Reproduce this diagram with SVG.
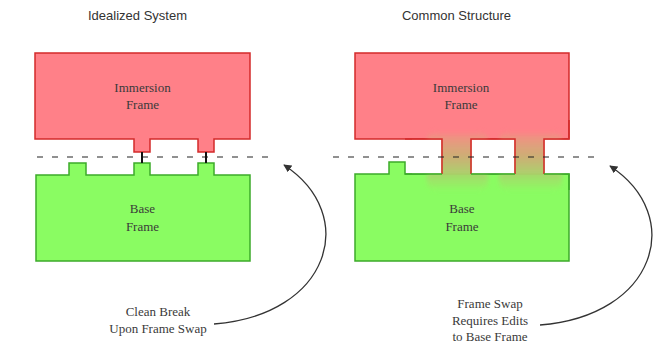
<svg xmlns="http://www.w3.org/2000/svg" width="656" height="344" viewBox="0 0 656 344">
<style>
.title{font-family:"Liberation Sans",Arial,sans-serif;font-size:13px;fill:#333;text-anchor:middle}
.lbl{font-family:"Liberation Serif","Times New Roman",serif;font-size:13px;fill:#3a3a3a;text-anchor:middle}
.red{fill:#ff8088;stroke:#d42a2a;stroke-width:1.5}
.green{fill:#8afc62;stroke:#3caa2a;stroke-width:1.5}
.rline{fill:none;stroke:#d42a2a;stroke-width:1.5}
.gline{fill:none;stroke:#3caa2a;stroke-width:1.5}
.dash{stroke:#222;stroke-width:1.2;stroke-dasharray:6 9;fill:none}
.conn{stroke:#111;stroke-width:2}
.arrow{fill:none;stroke:#333;stroke-width:1.3;marker-end:url(#ah)}
</style>
<defs>
<marker id="ah" viewBox="0 0 10 10" refX="9" refY="5" markerWidth="8" markerHeight="8" markerUnits="userSpaceOnUse" orient="auto">
<path d="M0,0 L10,5 L0,10 Z" fill="#333"/>
</marker>
<linearGradient id="blend" x1="0" y1="0" x2="0" y2="1">
<stop offset="0" stop-color="#ff8088"/>
<stop offset="0.15" stop-color="#e89a80"/>
<stop offset="0.45" stop-color="#c8b474"/>
<stop offset="0.72" stop-color="#a8d66c"/>
<stop offset="1" stop-color="#8cfc62"/>
</linearGradient>
<filter id="soft" x="-20%" y="-20%" width="140%" height="140%">
<feGaussianBlur stdDeviation="2"/>
</filter>
</defs>
<rect width="656" height="344" fill="#fff"/>

<text class="title" x="137.5" y="20">Idealized System</text>
<text class="title" x="456.5" y="20">Common Structure</text>

<!-- Left: idealized -->
<g id="left-base">
<path class="green" d="M36,175 H69 V163 H86 V175 H134 V163 H150 V175 H198 V163 H214 V175 H250 V261 H36 Z"/>
<text class="lbl" x="142.5" y="213">Base</text>
<text class="lbl" x="142.5" y="231">Frame</text>
</g>
<g id="left-immersion">
<path class="red" d="M35,53 H250 V139 H214 V152 H198 V139 H150 V152 H134 V139 H35 Z"/>
<text class="lbl" x="142.5" y="92">Immersion</text>
<text class="lbl" x="142.5" y="109">Frame</text>
</g>

<!-- Right: common -->
<g id="right-base">
<path class="green" d="M355,174 H389 V162 H405 V174 H569 V261 H355 Z"/>
</g>
<g id="right-immersion">
<path class="red" d="M355,53 H569 V139 H544 V174 H515 V139 H471 V174 H442 V139 H355 Z"/>
</g>
<g id="blend-zones" filter="url(#soft)" opacity="0.95">
<rect x="427" y="131" width="61" height="60" rx="9" fill="url(#blend)"/>
<rect x="499" y="131" width="63" height="60" rx="9" fill="url(#blend)"/>
</g>
<g id="gaps">
<rect x="412" y="139.8" width="29.3" height="33.5" fill="#fff"/>
<rect x="471.7" y="139.8" width="42.6" height="33.5" fill="#fff"/>
<rect x="544.7" y="139.8" width="28" height="33.5" fill="#fff"/>
<path class="rline" d="M405,139 H442 V174 M471,174 V139 H515 V174 M544,174 V139 H569 V120"/>
<path class="gline" d="M405,174 H442 M471,174 H515 M544,174 H569 V190"/>
</g>
<g id="right-labels">
<text class="lbl" x="461" y="92">Immersion</text>
<text class="lbl" x="461" y="109">Frame</text>
<text class="lbl" x="462" y="213">Base</text>
<text class="lbl" x="462" y="231">Frame</text>
</g>

<g id="connectors">
<line class="dash" x1="37" y1="157" x2="272" y2="157"/>
<line class="dash" x1="333" y1="157" x2="594" y2="157"/>
<line class="conn" x1="142" y1="152" x2="142" y2="163"/>
<line class="conn" x1="206" y1="152" x2="206" y2="163"/>
<path class="arrow" d="M214,324 C330,315 360,215 284,165"/>
<path class="arrow" d="M540,325 C656,316 686,216 610,166"/>
</g>

<g id="captions">
<text class="lbl" x="158" y="316">Clean Break</text>
<text class="lbl" x="158" y="333">Upon Frame Swap</text>
<text class="lbl" x="490" y="308">Frame Swap</text>
<text class="lbl" x="490" y="325">Requires Edits</text>
<text class="lbl" x="490" y="341">to Base Frame</text>
</g>
</svg>
